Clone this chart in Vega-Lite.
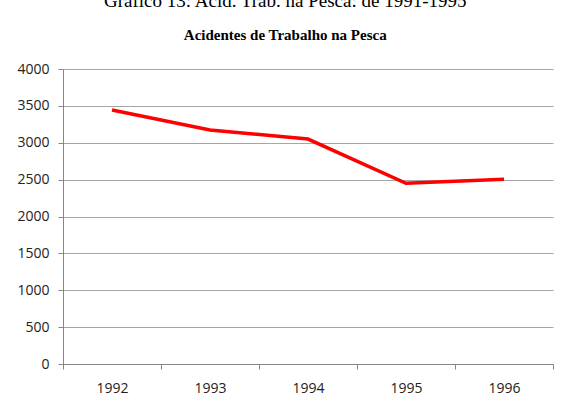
{
  "$schema": "https://vega.github.io/schema/vega-lite/v6.json",
  "width": 490,
  "height": 295,
  "autosize": {"type": "none"},
  "padding": {"left": 63, "top": 69, "right": 12, "bottom": 42},
  "background": "white",
  "title": {
    "text": "Gráfico 13: Acid. Trab. na Pesca: de 1991-1995",
    "subtitle": "Acidentes de Trabalho na Pesca",
    "anchor": "middle",
    "frame": "bounds",
    "font": "Liberation Serif",
    "fontSize": 19,
    "fontWeight": "normal",
    "color": "#000000",
    "subtitleFont": "Liberation Serif",
    "subtitleFontSize": 15,
    "subtitleFontWeight": "bold",
    "subtitleColor": "#000000",
    "subtitlePadding": 17,
    "offset": 19
  },
  "data": {
    "values": [
      {"ano": "1992", "acidentes": 3445},
      {"ano": "1993", "acidentes": 3172},
      {"ano": "1994", "acidentes": 3050},
      {"ano": "1995", "acidentes": 2450},
      {"ano": "1996", "acidentes": 2505}
    ]
  },
  "mark": {"type": "line", "color": "#ff0000", "strokeWidth": 3.5},
  "encoding": {
    "x": {
      "field": "ano",
      "type": "ordinal",
      "scale": {"type": "band", "paddingInner": 0, "paddingOuter": 0},
      "axis": {
        "title": null,
        "labelAngle": 0,
        "tickBand": "extent",
        "domainColor": "#868686",
        "tickColor": "#868686",
        "tickSize": 5,
        "labelFont": "Open Sans",
        "labelFontSize": 14,
        "labelColor": "#222222",
        "labelPadding": 12,
        "grid": false
      }
    },
    "y": {
      "field": "acidentes",
      "type": "quantitative",
      "scale": {"domain": [0, 4000]},
      "axis": {
        "title": null,
        "format": "d",
        "values": [0, 500, 1000, 1500, 2000, 2500, 3000, 3500, 4000],
        "domainColor": "#868686",
        "tickColor": "#868686",
        "tickSize": 5,
        "gridColor": "#a6a6a6",
        "gridWidth": 1,
        "labelFont": "Open Sans",
        "labelFontSize": 14,
        "labelColor": "#222222",
        "labelPadding": 9
      }
    }
  },
  "config": {"view": {"stroke": null}}
}
